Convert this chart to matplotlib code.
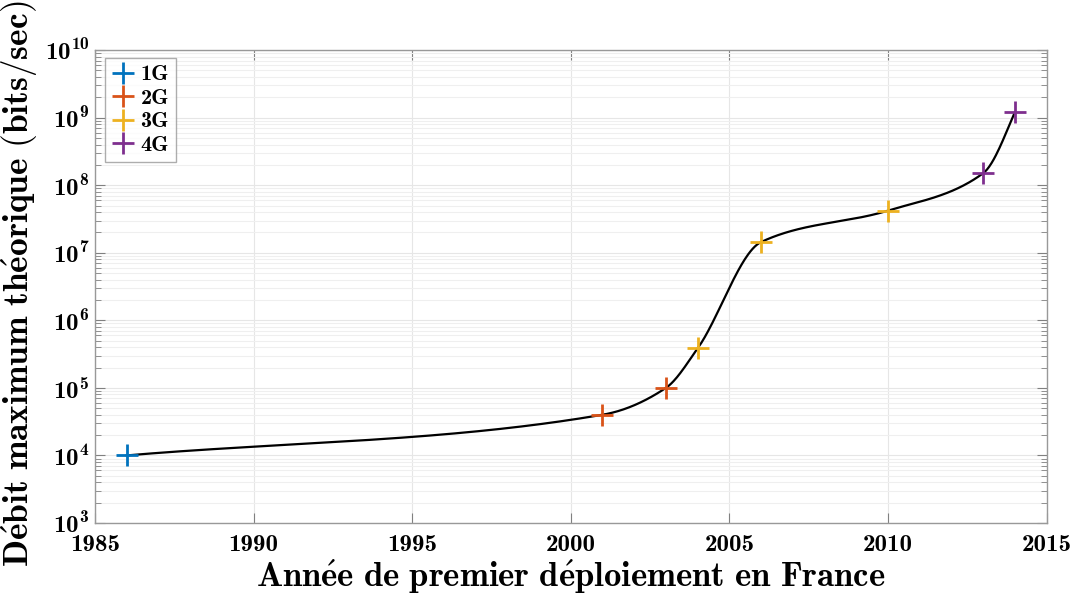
import numpy as np
import matplotlib
matplotlib.use("Agg")
import matplotlib.pyplot as plt

plt.rcParams['font.family'] = ['cmb10', 'DejaVu Serif']
plt.rcParams['mathtext.fontset'] = 'cm'
plt.rcParams['mathtext.default'] = 'bf'
plt.rcParams['axes.unicode_minus'] = False

# donnees : annee de deploiement et debit max (bits/sec)
gen_noms = ['1G', '2G', '3G', '4G']
gen_annees = [[1986], [2001, 2003], [2004, 2006, 2010], [2013, 2014]]
gen_debits = [[1e4], [4e4, 1e5], [3.84e5, 1.44e7, 4.2e7], [1.5e8, 1.2e9]]
gen_couleurs = ['#0072BD', '#D95319', '#EDB120', '#7E2F8E']

x_ticks = [1985, 1990, 1995, 2000, 2005, 2010, 2015]


def pchip(x, y, xx):
    # interpolation cubique monotone (type pchip), pente de depart = secante
    h = np.diff(x)
    d = np.diff(y) / h
    n = len(x)
    m = np.zeros(n)
    for k in range(1, n - 1):
        if d[k - 1] * d[k] > 0:
            w1 = 2 * h[k] + h[k - 1]
            w2 = h[k] + 2 * h[k - 1]
            m[k] = (w1 + w2) / (w1 / d[k - 1] + w2 / d[k])
    m[0] = d[0]
    s = ((2 * h[-1] + h[-2]) * d[-1] - h[-1] * d[-2]) / (h[-1] + h[-2])
    m[-1] = s if np.sign(s) == np.sign(d[-1]) else 0
    idx = np.clip(np.searchsorted(x, xx) - 1, 0, n - 2)
    t = (xx - x[idx]) / h[idx]
    h00 = 2 * t**3 - 3 * t**2 + 1
    h10 = t**3 - 2 * t**2 + t
    h01 = -2 * t**3 + 3 * t**2
    h11 = t**3 - t**2
    return h00 * y[idx] + h10 * h[idx] * m[idx] + h01 * y[idx + 1] + h11 * h[idx] * m[idx + 1]


toutes_annees = np.array(sum(gen_annees, []), dtype=float)
tous_debits = np.array(sum(gen_debits, []))
xx = np.linspace(toutes_annees[0], toutes_annees[-1], 800)
yy = 10 ** pchip(toutes_annees, np.log10(tous_debits), xx)

fig = plt.figure(figsize=(10.8, 5.96), dpi=100)
ax = fig.add_axes([0.088, 0.1225, 0.881, 0.7935])

for nom, an, deb, c in zip(gen_noms, gen_annees, gen_debits, gen_couleurs):
    ax.plot(an, deb, '+', color=c, markersize=16, mew=2, label=nom, zorder=3)
ax.plot(xx, yy, 'k-', lw=1.6, zorder=2)

ax.set_yscale('log')
ax.set_xlim(1985, 2015)
ax.set_ylim(1e3, 1e10)
ax.set_xticks(x_ticks)
ax.set_yticks([10.0**k for k in range(3, 11)])

ax.grid(True, which='major', color='#e6e6e6', lw=0.8)
ax.grid(True, which='minor', axis='y', color='#efefef', lw=0.8)
ax.set_axisbelow(True)

ax.tick_params(which='both', direction='in', top=True, right=True, color='#808080')
ax.tick_params(which='major', length=7)
ax.tick_params(which='minor', length=4)
ax.tick_params(axis='x', which='minor', top=False, bottom=False)
ax.tick_params(axis='x', labelsize=18, pad=8)
ax.tick_params(axis='y', labelsize=18, pad=4)
for s in ax.spines.values():
    s.set_color('#999999')
    s.set_linewidth(1.0)

ax.set_xlabel(r'$\mathbf{Ann\acute{e}e\ de\ premier\ d\acute{e}ploiement\ en\ France}$', fontsize=25, labelpad=1)
ax.set_ylabel(r'$\mathbf{D\acute{e}bit\ maximum\ th\acute{e}orique\ (bits/sec)}$', fontsize=25.5)
ax.yaxis.set_label_coords(-0.058, 0.505)

leg = ax.legend(loc='upper left', prop={'family': 'cmb10', 'size': 16}, fancybox=False,
                edgecolor='#999999', borderpad=0.3, handlelength=1.0, labelspacing=0.18,
                handletextpad=0.3, borderaxespad=0, bbox_to_anchor=(0.0105, 0.983))
leg.get_frame().set_linewidth(1.0)

fig.savefig('out.png', dpi=100, facecolor='white')
